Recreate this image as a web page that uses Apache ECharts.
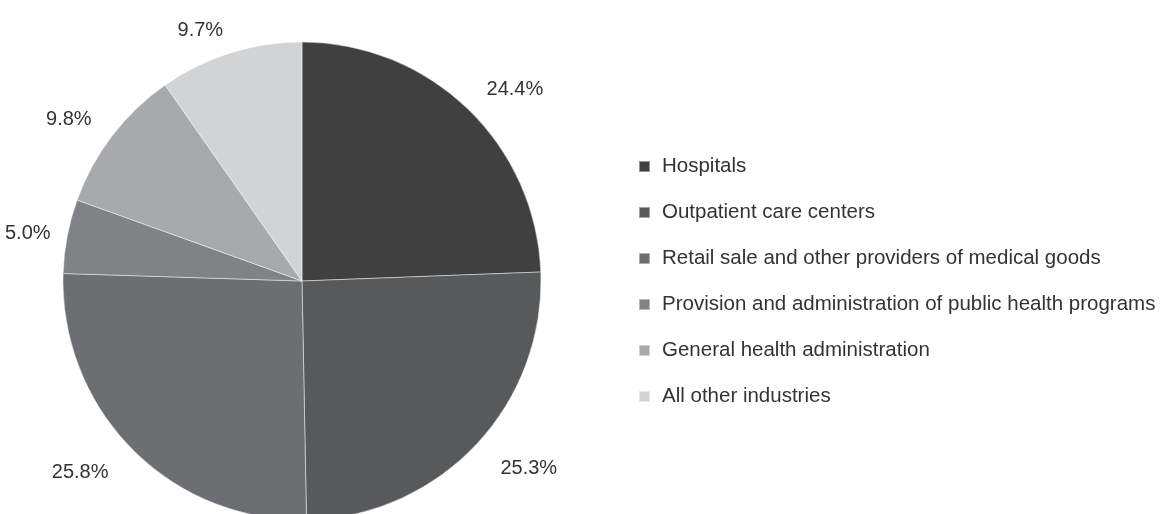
<!DOCTYPE html>
<html>
<head>
<meta charset="utf-8">
<style>
  html, body { margin: 0; padding: 0; background: #ffffff; }
  #chart { width: 1160px; height: 514px; }
</style>
<script src="https://cdn.jsdelivr.net/npm/echarts@6/dist/echarts.min.js"></script>
</head>
<body>
<div id="chart"></div>
<script>
// Share of health care spending by industry (percent)
const categories = [
  'Hospitals',
  'Outpatient care centers',
  'Retail sale and other providers of medical goods',
  'Provision and administration of public health programs',
  'General health administration',
  'All other industries'
];
const shares = [24.4, 25.3, 25.8, 5.0, 9.8, 9.7];
const sliceColors = ['#404041', '#58595b', '#6d6e71', '#808285', '#a7a9ac', '#d1d3d4'];

// How far each percentage label sits beyond the rim (px)
const labelReach = [27, 34, 33, 17, 26, 24];

const FONT = '"Liberation Sans", Arial, sans-serif';

const chart = echarts.init(document.getElementById('chart'), null, { renderer: 'canvas' });

chart.setOption({
  animation: false,
  color: sliceColors,
  legend: {
    orient: 'vertical',
    left: 633,
    top: 151,
    icon: 'rect',
    itemWidth: 11,
    itemHeight: 11,
    itemGap: 25,
    selectedMode: false,
    textStyle: {
      fontFamily: FONT,
      fontSize: 20.5,
      color: '#333333',
      padding: [0, 0, 0, 7]
    },
    data: categories
  },
  series: [{
    type: 'pie',
    center: [302, 281],
    radius: 239,
    startAngle: 90,
    clockwise: true,
    avoidLabelOverlap: false,
    itemStyle: {
      borderColor: 'rgba(255,255,255,0.45)',
      borderWidth: 1
    },
    label: {
      show: true,
      position: 'outside',
      distanceToLabelLine: 0,
      fontFamily: FONT,
      fontSize: 20,
      color: '#333333',
      formatter: p => p.value.toFixed(1) + '%'
    },
    labelLine: { show: false, length: 27, length2: 0 },
    emphasis: { disabled: true },
    data: categories.map((name, i) => ({
      name,
      value: shares[i],
      labelLine: { show: false, length: labelReach[i], length2: 0 }
    }))
  }]
});
</script>
</body>
</html>
